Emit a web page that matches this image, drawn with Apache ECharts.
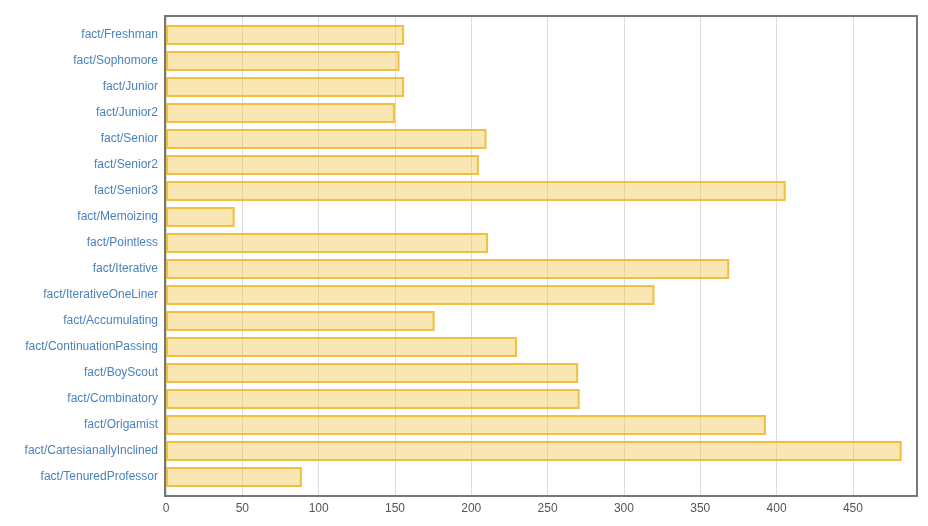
<!DOCTYPE html>
<html>
<head>
<meta charset="utf-8">
<script src="https://cdn.jsdelivr.net/npm/echarts@6/dist/echarts.min.js"></script>
<style>html,body{margin:0;padding:0;background:#fff}#c{width:928px;height:526px}</style>
</head>
<body>
<div id="c"></div>
<script>
const categories = [
  "fact/Freshman","fact/Sophomore","fact/Junior","fact/Junior2","fact/Senior","fact/Senior2",
  "fact/Senior3","fact/Memoizing","fact/Pointless","fact/Iterative","fact/IterativeOneLiner",
  "fact/Accumulating","fact/ContinuationPassing","fact/BoyScout","fact/Combinatory",
  "fact/Origamist","fact/CartesianallyInclined","fact/TenuredProfessor"
];
const values = [156, 153, 156, 150, 210, 205, 406, 45, 211, 369, 320, 176, 230, 270, 271, 393, 482, 89];
const xMin = 0;
const xMax = 492;
const xInterval = 50;

const chart = echarts.init(document.getElementById('c'), null, {renderer: 'canvas'});
const font = 'Liberation Sans, Arial, sans-serif';
chart.setOption({
  animation: false,
  backgroundColor: '#fff',
  grid: [
    {left: 166, right: 11, top: 22, bottom: 36},
    {left: 166, right: 11, top: 16, bottom: 30}
  ],
  xAxis: [{
    type: 'value', gridIndex: 0, min: xMin, max: xMax, interval: xInterval,
    axisLine: {show: false}, axisTick: {show: false},
    splitLine: {show: false},
    axisLabel: {color: '#555', fontSize: 12, fontFamily: font, margin: 13, showMaxLabel: false}
  }, {
    type: 'value', gridIndex: 1, min: xMin, max: xMax, interval: xInterval,
    axisLine: {show: false}, axisTick: {show: false}, axisLabel: {show: false},
    splitLine: {show: true, lineStyle: {color: '#dcdcdc', width: 1}}
  }],
  yAxis: [{
    type: 'category', gridIndex: 0, data: categories, inverse: true,
    axisLine: {show: false}, axisTick: {show: false},
    axisLabel: {color: '#4a82bc', fontSize: 12, fontFamily: font, margin: 8}
  }, {
    type: 'value', gridIndex: 1, show: false, splitLine: {show: false}
  }],
  series: [{
    type: 'bar', xAxisIndex: 0, yAxisIndex: 0, data: values, barCategoryGap: '24%', z: 3,
    itemStyle: {color: 'rgba(240,196,72,0.42)', borderColor: 'rgba(238,190,56,0.95)', borderWidth: 2}
  }],
  graphic: [{
    type: 'rect', z: 100, silent: true,
    shape: {x: 165, y: 16, width: 752, height: 480},
    style: {fill: 'none', stroke: '#777', lineWidth: 2}
  }]
});
</script>
</body>
</html>
